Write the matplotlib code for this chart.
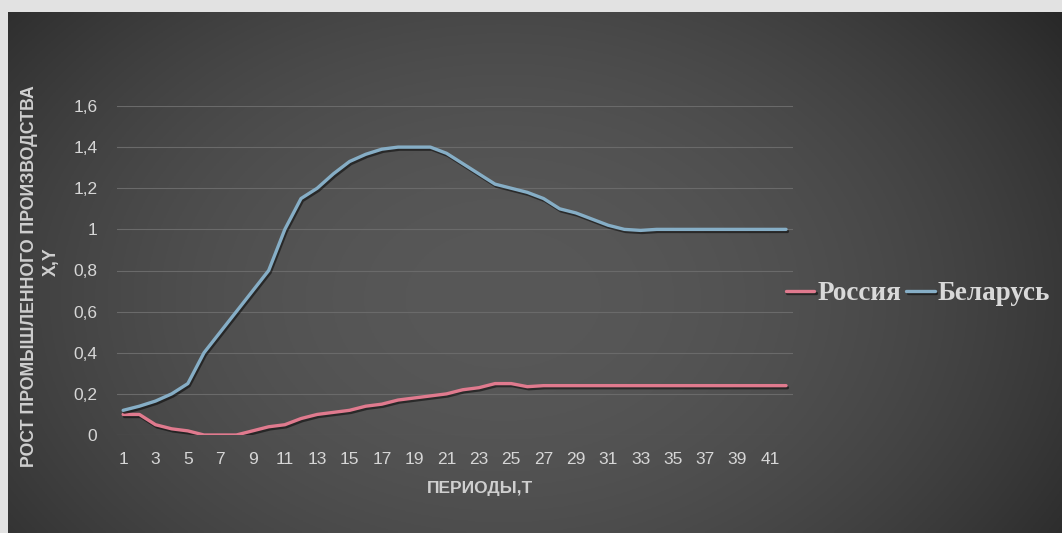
"""
Industrial production growth: Russia vs Belarus by period
"""

import numpy as np
import matplotlib.pyplot as plt
import matplotlib.patheffects as pe
from matplotlib.ticker import FuncFormatter

periods = list(range(1, 43))

russia = [0.10, 0.10, 0.05, 0.03, 0.02, 0.00, 0.00, 0.00, 0.02, 0.04,
          0.05, 0.08, 0.10, 0.11, 0.12, 0.14, 0.15, 0.17, 0.18, 0.19,
          0.20, 0.22, 0.23, 0.25, 0.25, 0.235, 0.24, 0.24, 0.24, 0.24,
          0.24, 0.24, 0.24, 0.24, 0.24, 0.24, 0.24, 0.24, 0.24, 0.24,
          0.24, 0.24]

belarus = [0.12, 0.14, 0.165, 0.20, 0.25, 0.40, 0.50, 0.60, 0.70, 0.80,
           1.00, 1.15, 1.20, 1.27, 1.33, 1.365, 1.39, 1.40, 1.40, 1.40,
           1.37, 1.32, 1.27, 1.22, 1.20, 1.18, 1.15, 1.10, 1.08, 1.05,
           1.02, 1.00, 0.995, 1.00, 1.00, 1.00, 1.00, 1.00, 1.00, 1.00,
           1.00, 1.00]

y_ticks = [0, 0.2, 0.4, 0.6, 0.8, 1.0, 1.2, 1.4, 1.6]
x_ticks = list(range(1, 42, 2))

W, H = 1062, 533
fig = plt.figure(figsize=(W / 100, H / 100), dpi=100, facecolor='#e2e2e2')

# dark panel with a radial gradient
px0, py_top = 8, 12
bg = fig.add_axes([px0 / W, 0, 1 - px0 / W, (H - py_top) / H])
bg.axis('off')
gx, gy = np.meshgrid(np.linspace(0, 1, 400), np.linspace(0, 1, 200))
r = np.sqrt(((gx - 0.47) / 0.62) ** 2 + ((gy - 0.55) / 0.9) ** 2)
shade = np.clip(0.345 - 0.17 * r ** 2, 0.16, 0.36)
bg.imshow(np.dstack([shade] * 3), aspect='auto', extent=(0, 1, 0, 1))
bg.set_xlim(0, 1)
bg.set_ylim(0, 1)

ax = fig.add_axes([116.7 / W, 98 / H, (793 - 116.7) / W, (435 - 106) / H])
ax.patch.set_visible(False)

shadow = [pe.SimpleLineShadow(offset=(1, -1.5), shadow_color='black', alpha=0.5), pe.Normal()]
ax.plot(periods, russia, color='#e07a8e', lw=2.4, label='Россия',
        solid_capstyle='round', path_effects=shadow)
ax.plot(periods, belarus, color='#86aec6', lw=2.4, label='Беларусь',
        solid_capstyle='round', path_effects=shadow)

ax.set_xlim(0.6, 42.43)
ax.set_ylim(0, 1.6)
ax.set_yticks(y_ticks)
ax.set_xticks(x_ticks)
ax.yaxis.set_major_formatter(FuncFormatter(lambda v, p: f"{v:g}".replace('.', ',')))
ax.grid(axis='y', color='#6a6a6a', lw=0.8)
ax.set_axisbelow(True)
for s in ax.spines.values():
    s.set_visible(False)
ax.tick_params(axis='both', length=0, labelsize=12.5, labelcolor='#d6d6d6')
ax.tick_params(axis='y', pad=14)
ax.tick_params(axis='x', pad=12)
for lbl in ax.get_xticklabels() + ax.get_yticklabels():
    lbl.set_family(['Liberation Sans', 'DejaVu Sans'])

sans = ['Liberation Sans', 'DejaVu Sans']
fig.text(30 / W, 1 - 276 / H, 'РОСТ ПРОМЫШЛЕННОГО ПРОИЗВОДСТВА', rotation=90,
         ha='center', va='center', fontsize=12.8, fontweight='bold',
         color='#cfcfcf', family=sans)
fig.text(51 / W, 1 - 262 / H, 'X,Y', rotation=90, ha='center', va='center',
         fontsize=12.8, fontweight='bold', color='#cfcfcf', family=sans)
fig.text(480 / W, 1 - 489 / H, 'ПЕРИОДЫ,Т', ha='center', va='center',
         fontsize=12.5, fontweight='bold', color='#cfcfcf', family=sans)

leg = ax.legend(loc='center left', bbox_to_anchor=(786 / W, 1 - 294 / H),
                bbox_transform=fig.transFigure, ncol=2, frameon=False,
                handlelength=1.05, handletextpad=0.1, columnspacing=0.2,
                borderpad=0, borderaxespad=0,
                prop={'family': ['Liberation Serif', 'DejaVu Serif'],
                      'weight': 'bold', 'size': 19.5})
for t in leg.get_texts():
    t.set_color('#d9d9d9')

plt.savefig('out.png', dpi=100, facecolor=fig.get_facecolor())
